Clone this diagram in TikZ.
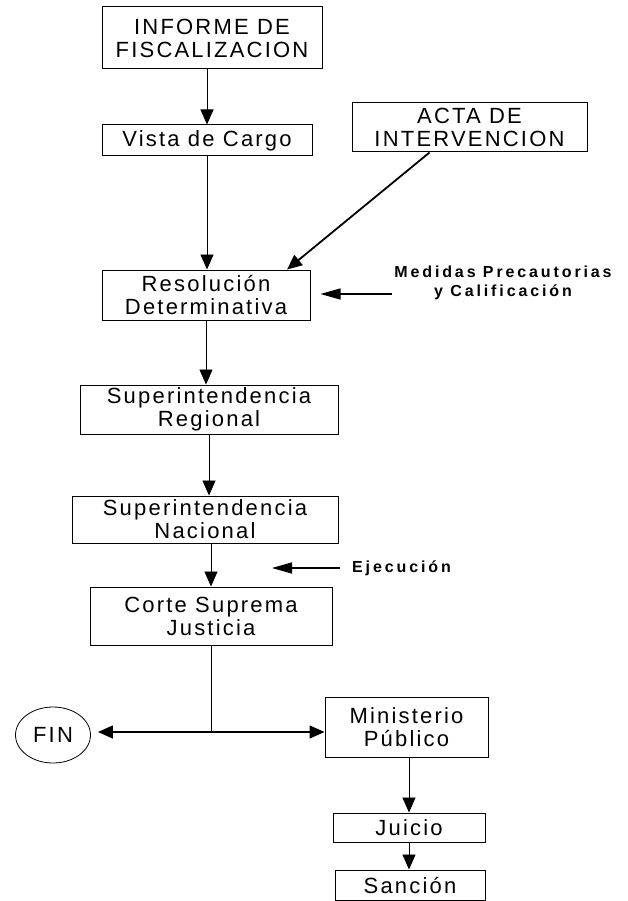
\documentclass[tikz,border=0pt]{standalone}
\usepackage{fontspec}
\setmainfont{Liberation Sans}
\newfontfamily\boxfont[LetterSpace=10]{Liberation Sans}
\newfontfamily\lblfont[LetterSpace=18]{Liberation Sans}
\usetikzlibrary{arrows.meta,shapes.geometric}

\tikzset{
  caja/.style={draw, line width=1pt, align=center, inner sep=0pt,
    font=\boxfont\fontsize{22}{23}\selectfont},
  nota/.style={align=center, inner sep=0pt,
    font=\lblfont\bfseries\fontsize{16}{19}\selectfont},
  flecha/.style={-{Triangle[length=15pt,width=13pt]}, line width=0.9pt},
  flechalarga/.style={-{Triangle[length=20pt,width=11pt]}, line width=1.4pt},
}

\begin{document}
\begin{tikzpicture}[x=1pt, y=-1pt]
            \useasboundingbox (0,0) rectangle (628,901);
            % cajas
            \node[caja, minimum width=220pt, minimum height=62pt] (inf) at (212,38) {INFORME DE\\FISCALIZACION};
            \node[caja, minimum width=210pt, minimum height=31pt] (vista) at (207,140.5) {Vista de Cargo};
            \node[caja, minimum width=235pt, minimum height=49pt] (acta) at (469.5,127.5) {ACTA DE\\INTERVENCION};
            \node[caja, minimum width=208pt, minimum height=50pt] (resol) at (206,295) {Resolución\\Determinativa};
            \node[caja, minimum width=258pt, minimum height=49pt] (sreg) at (209,409.5) {Superintendencia\\Regional};
            \node[caja, minimum width=266pt, minimum height=47pt] (snac) at (205,519.5) {Superintendencia\\Nacional};
            \node[caja, minimum width=242pt, minimum height=58pt] (corte) at (211,616) {Corte Suprema\\Justicia};
            \node[caja, ellipse, line width=0.8pt, minimum width=75pt, minimum height=56pt] (fin) at (53,735) {FIN};
            \node[caja, minimum width=163pt, minimum height=60pt] (mini) at (406.5,727) {Ministerio\\Público};
            \node[caja, minimum width=152pt, minimum height=29pt] (juicio) at (409,827.5) {Juicio};
            \node[caja, minimum width=150pt, minimum height=30pt] (sancion) at (410,885) {Sanción};

            % notas al costado
            \node[nota] (medidas) at (503,283) {Medidas Precautorias\\y Calificación};
            \coordinate (medini) at (392,294);
            \node[nota, anchor=west] (ejec) at (352,568) {Ejecución};
            \coordinate (ejefin) at (272,568);
            \coordinate (cruce) at (211,732);

            % flechas
            \draw[flecha] (inf.south -| vista.north) -- (vista.north);
            \draw[flecha] (vista.south) -- (vista.south |- resol.north);
            \draw[flecha, line width=1.8pt] ([xshift=-40pt]acta.south) -- ([xshift=81pt]resol.north);
            \draw[flechalarga, shorten >=10pt] (medini) -- (medini -| resol.east);
            \draw[flecha] (resol.south) -- (resol.south |- sreg.north);
            \draw[flecha] (sreg.south) -- (sreg.south |- snac.north);
            \draw[flecha] (corte.north |- snac.south) -- (corte.north);
            \draw[flechalarga] ([xshift=-12pt]ejec.west) -- (ejefin);
            \draw[line width=0.9pt] (corte.south) -- (cruce);
            \draw[flecha, line width=1.3pt, shorten >=7pt] (cruce) -- (cruce -| fin.east);
            \draw[flecha, line width=1.3pt] (cruce) -- (cruce -| mini.west);
            \draw[flecha] (juicio.north |- mini.south) -- (juicio.north);
            \draw[flecha] (juicio.south) -- (juicio.south |- sancion.north);
\end{tikzpicture}
\end{document}
